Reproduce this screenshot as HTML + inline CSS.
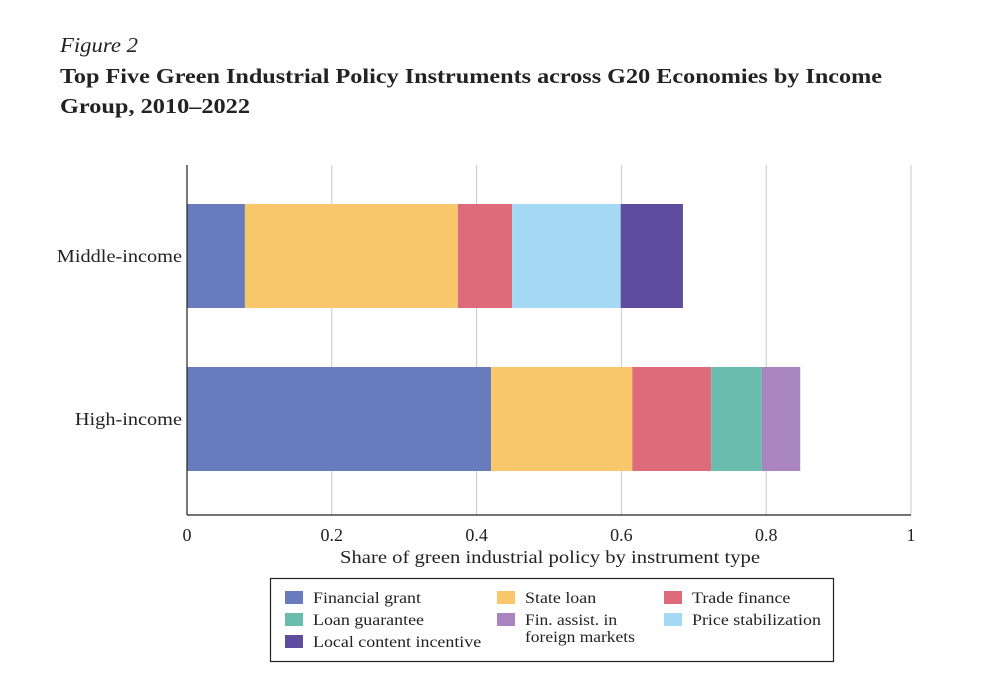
<!DOCTYPE html>
<html><head><meta charset="utf-8"><style>
body{margin:0;background:#fff;width:1000px;height:675px;overflow:hidden;font-family:"Liberation Serif",serif;}
</style></head><body>
<svg width="1000" height="675" xmlns="http://www.w3.org/2000/svg" font-family="Liberation Serif, serif">
<text x="60" y="52" font-size="21" font-style="italic" fill="#222" textLength="78" lengthAdjust="spacingAndGlyphs">Figure 2</text>
<text x="60" y="83" font-size="21" font-weight="bold" fill="#222" textLength="822" lengthAdjust="spacingAndGlyphs">Top Five Green Industrial Policy Instruments across G20 Economies by Income</text>
<text x="60" y="113" font-size="21" font-weight="bold" fill="#222" textLength="190" lengthAdjust="spacingAndGlyphs">Group, 2010–2022</text>
<g id="grid"></g>
<g id="bars"></g>
<g id="axes"></g>
<rect x="270.5" y="578.5" width="563" height="83" fill="none" stroke="#222" stroke-width="1.2"/>
<g id="legend" font-size="16" fill="#222"></g>
</svg>
<script>
const categories=["Middle-income","High-income"];
const seriesNames=["Financial grant","State loan","Trade finance","Loan guarantee","Fin. assist. in foreign markets","Price stabilization","Local content incentive"];
const colors=["#687bbd","#f8c76c","#dd6b7a","#6abcae","#a985bf","#a5d8f2","#5e4c9e"];
const middleVals=[0.080,0.294,0.075,0,0,0.150,0.086];
const highVals=[0.420,0.195,0.109,0.070,0.053,0,0];
const values=[middleVals,highVals];
const ticks=[0,0.2,0.4,0.6,0.8,1];
const tickLabels=["0","0.2","0.4","0.6","0.8","1"];
const NS="http://www.w3.org/2000/svg";
const x0=187,x1=911,yTop=165,yBase=515;
const xs=v=>x0+v*(x1-x0);
const barY=[204,367],barH=104;
function mk(tag,attrs,parent,txt){const e=document.createElementNS(NS,tag);for(const k in attrs)e.setAttribute(k,attrs[k]);if(txt!==undefined)e.textContent=txt;document.getElementById(parent).appendChild(e);return e;}
function widen(el,f){const w=el.getComputedTextLength();el.setAttribute('textLength',(w*f).toFixed(1));el.setAttribute('lengthAdjust','spacingAndGlyphs');}
ticks.forEach((t,i)=>{
 if(t>0){const g=mk('line',{x1:xs(t),x2:xs(t),y1:yTop,y2:yBase,stroke:'#c8c8c8','stroke-width':1},'grid');
 
 }
 const l=mk('text',{x:xs(t),y:yBase+26,'font-size':18,'text-anchor':'middle',fill:'#222'},'axes',tickLabels[i]);
 
 
});
categories.forEach((c,ci)=>{
 let acc=0;
 values[ci].forEach((v,si)=>{
  if(v>0){const r=mk('rect',{x:xs(acc),y:barY[ci],width:xs(acc+v)-xs(acc),height:barH,fill:colors[si]},'bars');
  
  }
  acc+=v;
 });
 const t=mk('text',{x:182,y:barY[ci]+barH/2+6,'font-size':17.5,'text-anchor':'end',fill:'#222'},'axes',c);
 
 
 widen(t,1.16);
});
let a=mk('line',{x1:x0,x2:x0,y1:yTop,y2:yBase,stroke:'#222','stroke-width':1.2},'axes');


a=mk('line',{x1:x0,x2:x1,y1:yBase,y2:yBase,stroke:'#222','stroke-width':1.2},'axes');


a=mk('text',{x:550,y:563,'font-size':17.5,'text-anchor':'middle',fill:'#222',textLength:420,lengthAdjust:'spacingAndGlyphs'},'axes','Share of green industrial policy by instrument type');


const legPos=[[285,591],[497,591],[664,591],[285,613],[497,613],[664,613],[285,635]];
seriesNames.forEach((n,i)=>{
 const [lx,ly]=legPos[i];
 const r=mk('rect',{x:lx,y:ly,width:18,height:13,fill:colors[i]},'legend');
 
 
 const t=mk('text',{x:lx+28,y:ly+12},'legend');
 
 
 if(n.startsWith("Fin. assist")){
  const s1=document.createElementNS(NS,'tspan');s1.setAttribute('x',lx+28);s1.textContent="Fin. assist. in";t.appendChild(s1);
  const s2=document.createElementNS(NS,'tspan');s2.setAttribute('x',lx+28);s2.setAttribute('dy',17);s2.textContent="foreign markets";t.appendChild(s2);
  widen(s1,1.09);widen(s2,1.09);
 } else {t.textContent=n;widen(t,1.12);}
});
</script>
</body></html>
